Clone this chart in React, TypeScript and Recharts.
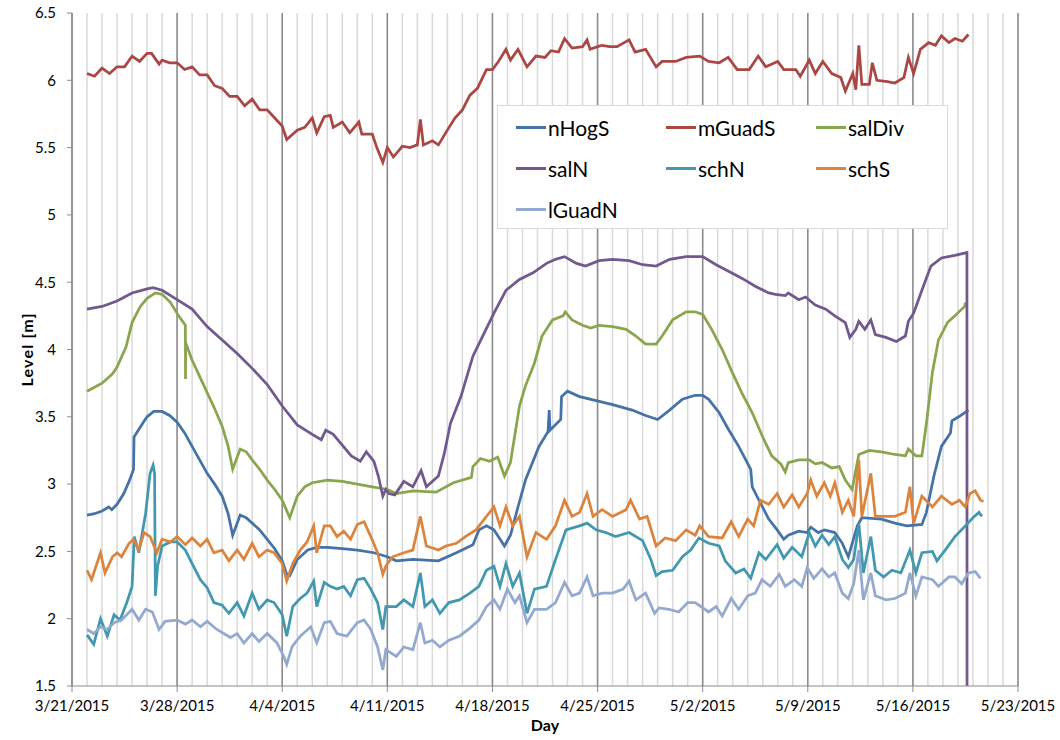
import React from 'react';
import { LineChart, Line, XAxis, YAxis, CartesianGrid, Legend } from 'recharts';

// x values are days after 3/21/2015
const dateLabels = ['3/21/2015', '3/28/2015', '4/4/2015', '4/11/2015', '4/18/2015', '4/25/2015', '5/2/2015', '5/9/2015', '5/16/2015', '5/23/2015'];
const weekTicks = [0, 7, 14, 21, 28, 35, 42, 49, 56, 63];
const levelTicks = [1.5, 2, 2.5, 3, 3.5, 4, 4.5, 5, 5.5, 6, 6.5];

const nHogS: [number, number][] = [
  [1, 2.77], [1.5, 2.78], [2, 2.8], [2.45, 2.83], [2.65, 2.81], [3, 2.85], [3.45, 2.93], [3.8, 3.02], [4.1, 3.11], [4.13, 3.35],
  [4.7, 3.45], [5, 3.5], [5.45, 3.54], [6, 3.54], [6.5, 3.51], [7, 3.46], [7.5, 3.38], [8, 3.28], [8.5, 3.18], [9, 3.08],
  [9.5, 3.0], [10, 2.91], [10.4, 2.78], [10.7, 2.62], [11.2, 2.77], [11.6, 2.75], [12, 2.71], [12.5, 2.66], [13, 2.59], [13.5, 2.52],
  [14, 2.43], [14.3, 2.33], [14.5, 2.32], [15, 2.44], [15.7, 2.51], [16.3, 2.53], [17, 2.53], [18, 2.52], [19, 2.51], [20.1, 2.49],
  [21, 2.46], [21.6, 2.43], [22.7, 2.44], [24.4, 2.43], [25.6, 2.49], [26.7, 2.55], [27.1, 2.66], [27.6, 2.69], [28.1, 2.66], [28.8, 2.54],
  [29.2, 2.62], [29.7, 2.83], [30.2, 3.03], [31.1, 3.28], [31.7, 3.39], [31.78, 3.55], [31.83, 3.4], [32.55, 3.48], [32.6, 3.65], [33, 3.69],
  [33.8, 3.65], [34.9, 3.62], [36, 3.59], [37.3, 3.55], [38.2, 3.51], [39, 3.48], [39.8, 3.55], [40.65, 3.63], [41.5, 3.66], [42, 3.66],
  [42.4, 3.63], [43.1, 3.53], [43.75, 3.4], [44.4, 3.28], [45.2, 3.11], [45.3, 2.98], [45.75, 2.88], [46.4, 2.74], [46.96, 2.66], [47.4, 2.59],
  [47.7, 2.62], [48.4, 2.65], [48.96, 2.64], [49.2, 2.68], [49.7, 2.64], [50.1, 2.66], [50.8, 2.64], [51.3, 2.56], [51.7, 2.46], [52.3, 2.69],
  [52.6, 2.75], [53.9, 2.74], [54.8, 2.71], [55.6, 2.69], [56.6, 2.7], [56.9, 2.79], [57.4, 3.06], [57.9, 3.28], [58.5, 3.38], [58.6, 3.47],
  [59.05, 3.5], [59.7, 3.55],
];

const mGuadS: [number, number][] = [
  [1, 6.05], [1.5, 6.03], [2, 6.09], [2.5, 6.05], [3, 6.1], [3.5, 6.1], [4, 6.18], [4.5, 6.14], [5, 6.2], [5.3, 6.2],
  [5.8, 6.12], [6, 6.15], [6.5, 6.13], [7, 6.13], [7.5, 6.08], [8, 6.1], [8.5, 6.04], [9, 6.04], [9.5, 5.96], [10, 5.94],
  [10.5, 5.88], [11, 5.88], [11.5, 5.81], [12, 5.86], [12.5, 5.78], [13, 5.78], [13.5, 5.72], [14, 5.66], [14.3, 5.56], [15, 5.63],
  [15.5, 5.65], [16, 5.72], [16.3, 5.61], [16.8, 5.73], [17.2, 5.74], [17.4, 5.65], [18, 5.69], [18.5, 5.61], [19.1, 5.69], [19.3, 5.6],
  [20, 5.6], [20.3, 5.5], [20.7, 5.39], [21, 5.5], [21.4, 5.43], [22, 5.51], [22.5, 5.5], [23, 5.52], [23.2, 5.71], [23.4, 5.52],
  [24, 5.55], [24.4, 5.52], [25, 5.63], [25.5, 5.72], [26, 5.78], [26.5, 5.89], [27, 5.94], [27.6, 6.08], [28, 6.08], [28.4, 6.14],
  [28.9, 6.23], [29.2, 6.15], [29.7, 6.23], [30.3, 6.1], [30.9, 6.18], [31.5, 6.17], [31.9, 6.22], [32.4, 6.21], [32.8, 6.31], [33.3, 6.24],
  [34, 6.25], [34.3, 6.3], [34.5, 6.23], [35, 6.25], [35.3, 6.26], [35.8, 6.25], [36.3, 6.25], [37.1, 6.3], [37.5, 6.21], [38.2, 6.23],
  [38.9, 6.1], [39.3, 6.14], [40.2, 6.14], [40.9, 6.17], [41.8, 6.18], [42.4, 6.14], [43.1, 6.13], [43.7, 6.17], [44.3, 6.08], [45.1, 6.08],
  [45.7, 6.18], [46.2, 6.1], [47, 6.14], [47.4, 6.08], [48.2, 6.08], [48.5, 6.03], [49.1, 6.15], [49.5, 6.05], [50, 6.14], [50.6, 6.05],
  [51.2, 6.02], [51.5, 5.92], [52, 6.05], [52.2, 5.93], [52.4, 6.26], [52.6, 5.97], [53.1, 5.97], [53.3, 6.13], [53.6, 6.0], [54.3, 5.99],
  [54.8, 5.98], [55.4, 6.02], [55.7, 6.17], [56.05, 6.05], [56.5, 6.23], [57.05, 6.28], [57.5, 6.26], [57.9, 6.33], [58.4, 6.28], [58.8, 6.31],
  [59.3, 6.29], [59.7, 6.34],
];

const salDiv: [number, number][] = [
  [1, 3.69], [1.5, 3.72], [2, 3.75], [2.7, 3.82], [3, 3.87], [3.6, 4.02], [4, 4.2], [4.55, 4.32], [5, 4.38], [5.55, 4.42],
  [6, 4.41], [6.55, 4.35], [7.1, 4.25], [7.55, 4.18], [7.56, 3.78], [7.57, 4.05], [8, 3.92], [8.5, 3.8], [9, 3.68], [9.5, 3.56],
  [10, 3.43], [10.4, 3.28], [10.7, 3.11], [11.2, 3.26], [11.6, 3.24], [12, 3.18], [12.5, 3.11], [13, 3.03], [13.5, 2.96], [14, 2.88],
  [14.5, 2.75], [15, 2.91], [15.5, 2.98], [16, 3.01], [17, 3.03], [18, 3.02], [19, 3.0], [20, 2.98], [21, 2.96], [21.6, 2.93],
  [22.7, 2.95], [24.25, 2.94], [25.4, 3.01], [26.6, 3.05], [26.7, 3.13], [27.2, 3.19], [27.8, 3.17], [28.35, 3.2], [28.8, 3.06], [29.2, 3.16],
  [29.8, 3.58], [30.2, 3.73], [30.8, 3.9], [31.3, 4.1], [32, 4.22], [32.7, 4.25], [32.85, 4.28], [33.3, 4.22], [34, 4.18], [34.55, 4.16],
  [35.1, 4.18], [36, 4.17], [36.9, 4.15], [37.55, 4.1], [38.2, 4.04], [38.9, 4.04], [39.3, 4.1], [40, 4.22], [40.9, 4.28], [41.5, 4.28],
  [42, 4.26], [42.6, 4.15], [43.3, 4.0], [43.97, 3.83], [44.6, 3.68], [45.3, 3.53], [46, 3.35], [46.6, 3.21], [47.2, 3.15], [47.5, 3.09],
  [47.7, 3.16], [48.4, 3.18], [49.1, 3.18], [49.5, 3.15], [49.95, 3.16], [50.6, 3.12], [51.1, 3.13], [51.5, 3.03], [51.95, 2.96], [52.4, 3.22],
  [53.1, 3.25], [53.9, 3.24], [54.8, 3.22], [55.5, 3.21], [55.7, 3.26], [56.2, 3.21], [56.6, 3.21], [56.9, 3.45], [57.3, 3.83], [57.7, 4.07],
  [58.3, 4.2], [58.8, 4.25], [59.45, 4.32], [59.5, 4.35],
];

// the logger reads 0 after 5/20, so the line falls through the axis
const salN: [number, number][] = [
  [1, 4.3], [2, 4.32], [3, 4.36], [4, 4.42], [5, 4.45], [5.4, 4.46], [6, 4.44], [7, 4.37], [8, 4.3], [9, 4.17],
  [10, 4.07], [11, 3.97], [12, 3.86], [13, 3.74], [14, 3.58], [15, 3.44], [16, 3.37], [16.6, 3.33], [16.9, 3.4], [17.4, 3.37],
  [18, 3.29], [18.6, 3.21], [19.2, 3.17], [19.6, 3.24], [20.1, 3.17], [20.4, 3.06], [20.7, 2.91], [20.9, 2.96], [21.1, 2.93], [21.5, 2.92],
  [22.1, 3.02], [22.7, 2.98], [23.25, 3.1], [23.6, 2.98], [24.4, 3.06], [24.8, 3.23], [25.2, 3.45], [25.9, 3.65], [26.7, 3.95], [27.35, 4.1],
  [28.1, 4.27], [28.9, 4.44], [29.8, 4.52], [30.7, 4.57], [31.6, 4.64], [32.2, 4.67], [32.8, 4.69], [33.6, 4.64], [34.2, 4.62], [35.1, 4.66],
  [36, 4.67], [37.1, 4.66], [38, 4.63], [38.9, 4.62], [39.8, 4.67], [40.9, 4.69], [42, 4.69], [42.9, 4.63], [43.75, 4.58], [44.6, 4.53],
  [45.5, 4.47], [46.4, 4.42], [46.85, 4.41], [47.5, 4.4], [47.7, 4.42], [48.4, 4.37], [48.85, 4.39], [49.5, 4.33], [50.2, 4.3], [50.8, 4.25],
  [51.5, 4.2], [51.8, 4.09], [52.2, 4.15], [52.4, 4.21], [52.8, 4.15], [53.2, 4.22], [53.5, 4.11], [54.2, 4.09], [54.9, 4.06], [55.5, 4.1],
  [55.7, 4.21], [56.05, 4.27], [56.6, 4.44], [57.2, 4.62], [57.9, 4.68], [58.8, 4.7], [59.6, 4.72], [59.61, 0],
];

const schN: [number, number][] = [
  [1, 1.88], [1.45, 1.81], [1.9, 2.0], [2.35, 1.87], [2.8, 2.03], [3.2, 1.99], [3.65, 2.12], [4, 2.24], [4.15, 2.61], [4.45, 2.49],
  [4.9, 2.78], [5.2, 3.08], [5.4, 3.14], [5.5, 3.08], [5.55, 2.17], [5.7, 2.39], [6, 2.54], [6.55, 2.57], [7, 2.57], [7.55, 2.51],
  [8, 2.41], [8.55, 2.29], [9, 2.23], [9.45, 2.12], [10, 2.1], [10.45, 2.04], [11, 2.12], [11.45, 2.02], [12, 2.19], [12.45, 2.07],
  [13, 2.14], [13.45, 2.12], [14, 2.03], [14.3, 1.87], [14.7, 2.09], [15.2, 2.15], [15.65, 2.19], [16.1, 2.28], [16.3, 2.09], [16.8, 2.27],
  [17.2, 2.24], [17.65, 2.22], [18.1, 2.24], [18.55, 2.17], [19, 2.29], [19.45, 2.3], [19.9, 2.22], [20.35, 2.12], [20.7, 1.92], [20.9, 2.09],
  [21.6, 2.09], [22.1, 2.14], [22.7, 2.09], [23.2, 2.34], [23.5, 2.09], [24, 2.14], [24.5, 2.04], [25.1, 2.12], [25.8, 2.14], [26.5, 2.19],
  [27.1, 2.24], [27.6, 2.36], [28.1, 2.39], [28.5, 2.24], [28.9, 2.41], [29.35, 2.24], [29.8, 2.34], [30.3, 2.04], [30.8, 2.22], [31.6, 2.24],
  [32.2, 2.44], [32.9, 2.66], [33.8, 2.69], [34.3, 2.71], [34.9, 2.66], [35.55, 2.64], [36.2, 2.61], [37.1, 2.64], [38, 2.58], [38.55, 2.44],
  [38.9, 2.32], [39.3, 2.35], [40, 2.36], [40.65, 2.46], [41.2, 2.51], [41.75, 2.6], [42.4, 2.56], [43.1, 2.54], [43.5, 2.43], [44.2, 2.34],
  [44.75, 2.37], [45.2, 2.3], [45.75, 2.49], [46.2, 2.44], [46.96, 2.55], [47.4, 2.45], [47.96, 2.53], [48.6, 2.46], [49.1, 2.64], [49.5, 2.54],
  [49.95, 2.62], [50.4, 2.55], [50.8, 2.61], [51.3, 2.44], [51.7, 2.38], [52.06, 2.44], [52.4, 2.71], [52.7, 2.34], [53.2, 2.61], [53.5, 2.36],
  [54.05, 2.31], [54.6, 2.36], [55.2, 2.34], [55.8, 2.51], [56.2, 2.34], [56.6, 2.49], [57.3, 2.5], [57.6, 2.43], [58.15, 2.51], [58.8, 2.61],
  [59.5, 2.69], [60, 2.75], [60.4, 2.79], [60.6, 2.76],
];

const schS: [number, number][] = [
  [1, 2.36], [1.3, 2.29], [1.9, 2.49], [2.2, 2.34], [2.7, 2.46], [3, 2.49], [3.3, 2.46], [3.8, 2.56], [4.1, 2.59], [4.45, 2.51],
  [4.8, 2.64], [5.2, 2.61], [5.65, 2.49], [6, 2.59], [6.55, 2.57], [7, 2.61], [7.55, 2.55], [8, 2.6], [8.55, 2.54], [9, 2.59],
  [9.45, 2.49], [10, 2.51], [10.45, 2.43], [11, 2.51], [11.45, 2.44], [12, 2.56], [12.45, 2.46], [13, 2.51], [13.45, 2.49], [14, 2.41],
  [14.3, 2.28], [14.7, 2.41], [15.2, 2.51], [15.65, 2.57], [16.1, 2.69], [16.3, 2.49], [16.8, 2.69], [17.2, 2.69], [17.65, 2.61], [18.1, 2.65],
  [18.55, 2.59], [19, 2.7], [19.45, 2.72], [19.9, 2.61], [20.35, 2.49], [20.7, 2.33], [20.9, 2.39], [21.35, 2.46], [22.1, 2.49], [22.7, 2.51],
  [23.2, 2.76], [23.6, 2.54], [24.4, 2.51], [24.9, 2.54], [25.6, 2.56], [26.2, 2.61], [26.9, 2.66], [27.6, 2.76], [28.1, 2.83], [28.5, 2.69],
  [28.9, 2.83], [29.35, 2.69], [29.8, 2.76], [30.3, 2.46], [30.9, 2.64], [31.6, 2.59], [32.2, 2.69], [32.8, 2.88], [33.3, 2.76], [33.8, 2.79],
  [34.3, 2.93], [34.7, 2.76], [35.3, 2.81], [36, 2.76], [36.9, 2.81], [37.2, 2.88], [37.8, 2.74], [38.3, 2.76], [38.9, 2.54], [39.5, 2.6],
  [40.2, 2.58], [40.9, 2.66], [41.5, 2.62], [41.8, 2.69], [42.4, 2.61], [43.3, 2.6], [43.9, 2.72], [44.4, 2.61], [45, 2.74], [45.4, 2.69],
  [45.85, 2.88], [46.4, 2.85], [46.96, 2.93], [47.4, 2.83], [47.96, 2.92], [48.4, 2.83], [48.96, 2.93], [49.2, 3.03], [49.6, 2.91], [50.1, 3.01],
  [50.5, 2.91], [50.8, 3.01], [51.3, 2.79], [51.7, 2.88], [52.06, 2.76], [52.4, 3.18], [52.6, 2.76], [53.2, 3.08], [53.5, 2.76], [54.2, 2.76],
  [54.8, 2.76], [55.5, 2.79], [55.8, 2.98], [56.05, 2.71], [56.6, 2.91], [57.3, 2.83], [57.9, 2.91], [58.6, 2.85], [59.1, 2.88], [59.5, 2.83],
  [59.8, 2.93], [60.15, 2.95], [60.5, 2.88], [60.7, 2.87],
];

const lGuadN: [number, number][] = [
  [1, 1.92], [1.45, 1.89], [1.9, 1.94], [2.35, 1.92], [2.8, 1.97], [3.3, 1.99], [4, 2.07], [4.45, 1.99], [4.9, 2.07], [5.35, 2.05],
  [5.8, 1.92], [6.2, 1.98], [7, 1.99], [7.55, 1.96], [8, 1.99], [8.55, 1.94], [9, 1.98], [9.65, 1.92], [10.55, 1.86], [11, 1.89],
  [11.45, 1.82], [12, 1.89], [12.45, 1.83], [13, 1.89], [13.65, 1.82], [14.1, 1.72], [14.3, 1.66], [14.65, 1.79], [15.2, 1.87], [15.9, 1.94],
  [16.3, 1.82], [16.8, 1.97], [17.2, 1.98], [17.65, 1.89], [18.3, 1.87], [19, 1.97], [19.45, 1.99], [19.9, 1.92], [20.35, 1.79], [20.7, 1.62],
  [20.9, 1.77], [21.6, 1.72], [22.1, 1.79], [22.7, 1.77], [23.2, 1.97], [23.5, 1.82], [24, 1.84], [24.5, 1.79], [25.1, 1.84], [25.8, 1.87],
  [26.5, 1.93], [27.1, 1.99], [27.6, 2.09], [28.1, 2.14], [28.5, 2.07], [29, 2.22], [29.5, 2.12], [29.8, 2.17], [30.3, 1.97], [30.8, 2.07],
  [31.6, 2.07], [32.2, 2.12], [32.8, 2.27], [33.3, 2.17], [33.8, 2.19], [34.3, 2.31], [34.7, 2.17], [35.3, 2.19], [36, 2.19], [36.7, 2.22],
  [37.1, 2.28], [37.55, 2.14], [38.2, 2.19], [38.8, 2.04], [39.1, 2.08], [39.75, 2.07], [40.4, 2.05], [41, 2.12], [41.5, 2.12], [42.4, 2.05],
  [42.9, 2.09], [43.3, 2.02], [43.9, 2.15], [44.4, 2.07], [45, 2.17], [45.5, 2.19], [45.95, 2.29], [46.5, 2.24], [47.1, 2.33], [47.5, 2.24],
  [48.1, 2.29], [48.6, 2.24], [48.96, 2.38], [49.4, 2.3], [49.95, 2.37], [50.4, 2.31], [50.8, 2.34], [51.3, 2.19], [51.7, 2.15], [52.06, 2.26],
  [52.4, 2.51], [52.7, 2.14], [53.2, 2.34], [53.5, 2.17], [54.2, 2.14], [54.8, 2.15], [55.5, 2.19], [55.8, 2.34], [56.2, 2.17], [56.6, 2.31],
  [57.3, 2.29], [57.7, 2.24], [58.4, 2.31], [58.8, 2.31], [59.25, 2.26], [59.7, 2.34], [60.15, 2.35], [60.5, 2.3],
];

const series = [
  { name: 'nHogS', color: '#4572A7', points: nHogS },
  { name: 'mGuadS', color: '#AA4643', points: mGuadS },
  { name: 'salDiv', color: '#89A54E', points: salDiv },
  { name: 'salN', color: '#71588F', points: salN },
  { name: 'schN', color: '#4198AF', points: schN },
  { name: 'schS', color: '#DB843D', points: schS },
  { name: 'lGuadN', color: '#93A9CF', points: lGuadN },
];
const seriesOrder = series.map((s) => s.name);

// one light grid line per day, spaced like the 0..63 day axis
const dayTicks = Array.from({ length: 64 }, (_, i) => i);
const DAY_SPAN = 63;

const font = 'Lato, "Open Sans", sans-serif';

const dayLines = ({ offset }: any) => dayTicks.map((d) => offset.left + (d * offset.width) / DAY_SPAN);

const LegendBox = (props: any) => {
  const items = [...(props.payload || [])].sort(
    (a: any, b: any) => seriesOrder.indexOf(a.value) - seriesOrder.indexOf(b.value)
  );
  return (
    <div
      style={{
        boxSizing: 'border-box',
        width: '100%',
        height: '100%',
        background: '#fff',
        border: '1px solid #d9d9d9',
        padding: '1px 0 0 18px',
        display: 'grid',
        gridTemplateColumns: '150px 150px 150px',
        gridAutoRows: '41px',
        fontFamily: font,
        fontSize: 21,
        color: '#000',
      }}
    >
      {items.map((it: any) => (
        <div key={it.value} style={{ display: 'flex', alignItems: 'center' }}>
          <span style={{ display: 'inline-block', width: 30, height: 3, background: it.color, marginRight: 2 }} />
          <span>{it.value}</span>
        </div>
      ))}
    </div>
  );
};

const YTitle = (props: any) => {
  const vb = props.viewBox;
  const cx = vb.x + 26;
  const cy = vb.y + vb.height / 2;
  return (
    <text x={cx} y={cy} transform={`rotate(-90 ${cx} ${cy})`} textAnchor="middle" dominantBaseline="central"
      fontFamily={font} fontWeight="bold" fontSize={16} letterSpacing={1.2} fill="#000">
      Level [m]
    </text>
  );
};

const XTitle = (props: any) => {
  const vb = props.viewBox;
  return (
    <text x={vb.x + vb.width / 2} y={vb.y + 45} textAnchor="middle" fontFamily={font} fontWeight="bold" fontSize={16} fill="#000">
      Day
    </text>
  );
};

export default function App() {
  return (
    <div style={{ position: 'absolute', left: 0, top: 0, width: 1060, height: 740, background: '#fff' }}>
      <LineChart width={1060} height={740} margin={{ top: 13, right: 42, bottom: 0, left: 0 }}>
        <CartesianGrid horizontal={false} stroke="#d9d9d9" strokeWidth={1.5} verticalCoordinatesGenerator={dayLines} />
        <CartesianGrid horizontal={false} stroke="#8a8a8a" strokeWidth={1.5} />
        <XAxis
          type="number"
          dataKey="t"
          domain={[0, DAY_SPAN]}
          ticks={weekTicks}
          interval={0}
          height={54}
          tickFormatter={(d: number) => dateLabels[weekTicks.indexOf(d)]}
          tick={{ fill: '#000', fontSize: 15, fontFamily: font }}
          tickSize={6}
          tickMargin={8}
          stroke="#8a8a8a"
          label={<XTitle />}
        />
        <YAxis
          type="number"
          domain={[1.5, 6.5]}
          ticks={levelTicks}
          allowDataOverflow
          width={72}
          tick={{ fill: '#000', fontSize: 15, fontFamily: font }}
          tickSize={5}
          tickMargin={11}
          stroke="#8a8a8a"
          label={<YTitle />}
        />
        <Legend
          layout="horizontal"
          verticalAlign="middle"
          align="center"
          content={<LegendBox />}
          wrapperStyle={{ position: 'absolute', left: 497, top: 105, width: 451, height: 124 }}
        />
        {series.map((s) => (
          <Line
            key={s.name}
            name={s.name}
            data={s.points.map(([t, v]) => ({ t, v }))}
            dataKey="v"
            type="linear"
            stroke={s.color}
            strokeWidth={2.75}
            dot={false}
            activeDot={false}
            isAnimationActive={false}
          />
        ))}
      </LineChart>
    </div>
  );
}
